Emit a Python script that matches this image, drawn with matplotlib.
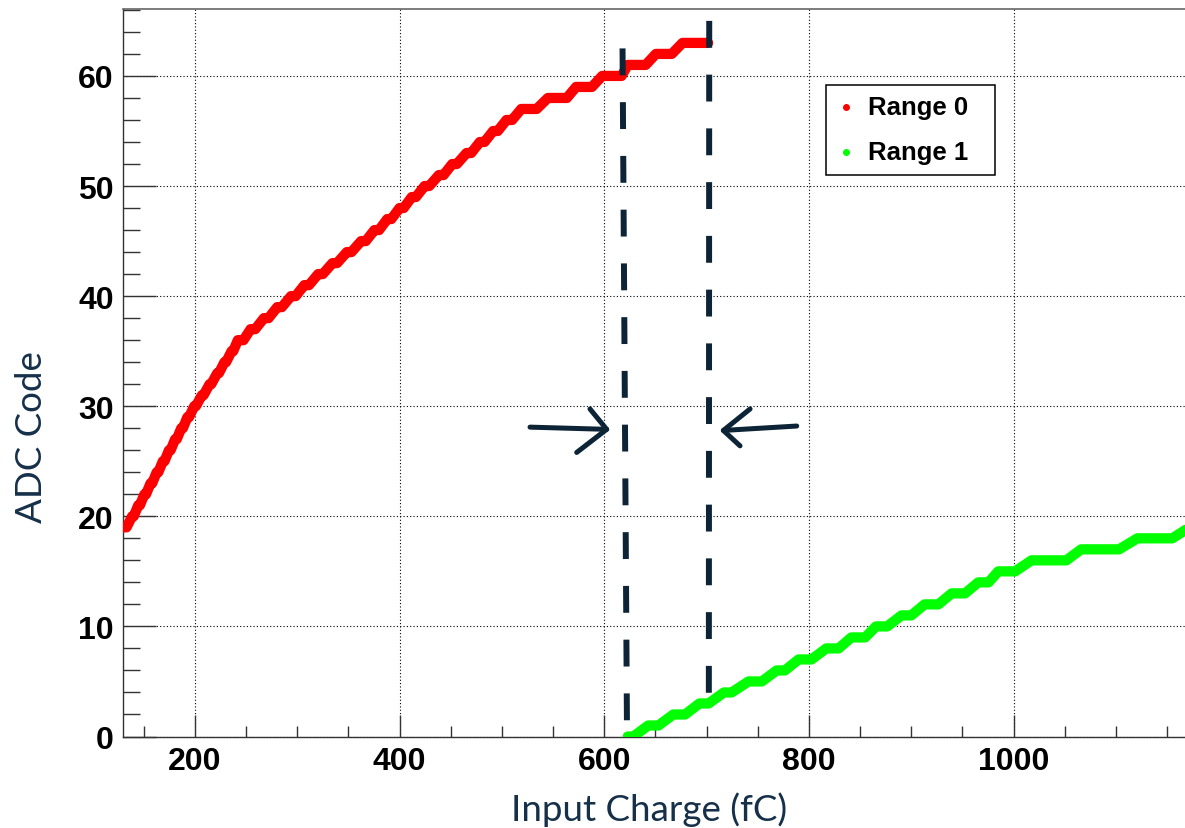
import matplotlib
matplotlib.use("Agg")
import matplotlib.pyplot as plt
from matplotlib.lines import Line2D
from matplotlib.patches import Rectangle
from matplotlib.ticker import MultipleLocator

# ---------------- data ----------------
# Range 0: ADC code plateaus (code, plateau start fC, plateau end fC)
range0_codes = list(range(19, 64))
range0_start = [130, 138.7, 144.7, 150.7, 156.7, 162.7, 168.7, 174.7, 180.7,
                186.7, 192.7, 199.4, 206.9, 214.4, 221.9, 228.9, 235.9, 242,
                254.5, 267.5, 280.5, 294, 307, 320.5, 334.5, 348.5, 362.5,
                375.5, 388, 400, 412, 424.5, 438.5, 451.5, 465.5, 478.5,
                491.5, 504.5, 519, 545, 572.5, 598, 623, 650.5, 676.5]
range0_end = [133.3, 140.3, 146.3, 152.3, 158.3, 164.3, 170.3, 176.3, 182.3,
              188.3, 194.3, 201, 208.5, 216, 223.5, 230.5, 237.5, 247.5,
              259, 272, 285, 298.5, 311.5, 325, 339, 353, 367, 380, 392, 404,
              416, 429, 443, 456, 470, 483, 496, 510, 534, 563.5, 588, 617,
              640.5, 666, 701.5]

# Range 1
range1_codes = list(range(0, 20))
range1_start = [623, 643, 667.5, 693, 717, 741, 768.5, 790, 817, 841.5, 865.5,
                890.5, 913, 939.5, 965.5, 985, 1017.5, 1066, 1121, 1172]
range1_end = [628.5, 653, 679, 702, 724.5, 754, 776.5, 802.5, 829, 855, 876.5,
              900, 926.5, 952.5, 975.5, 1001.5, 1051.5, 1103, 1155, 1200]

x_ticks = [200, 400, 600, 800, 1000]
y_ticks = [0, 10, 20, 30, 40, 50, 60]
series_labels = ["Range 0", "Range 1"]
series_colors = ["#ff0000", "#00ff00"]
x_label = "Input Charge (fC)"
y_label = "ADC Code"

NAVY = "#0c2435"
LABEL_COLOR = "#16304a"

# ---------------- figure ----------------
W, H = 1185, 829
fig = plt.figure(figsize=(W / 100, H / 100), dpi=100)
plt.rcParams["font.family"] = ["Liberation Sans", "DejaVu Sans"]

ax_left, ax_bottom = 123.3, 91.5
ax_right_px, ax_top_px = 1218.3, 10.0
ax = fig.add_axes([ax_left / W, ax_bottom / H,
                   (ax_right_px - ax_left) / W, (H - ax_top_px - ax_bottom) / H])
ax.set_xlim(130.1, 1200)
ax.set_ylim(0, 66.08)


def staircase(codes, starts, ends):
    xs, ys = [], []
    for c, s, e in zip(codes, starts, ends):
        xs += [s, e]
        ys += [c, c]
    return xs, ys


for codes, starts, ends, col in [(range0_codes, range0_start, range0_end, series_colors[0]),
                                 (range1_codes, range1_start, range1_end, series_colors[1])]:
    xs, ys = staircase(codes, starts, ends)
    ax.plot(xs, ys, color=col, lw=7.4, solid_capstyle="round",
            solid_joinstyle="round", zorder=3)

# ticks
ax.set_xticks(x_ticks)
ax.set_yticks(y_ticks)
ax.xaxis.set_minor_locator(MultipleLocator(50))
ax.yaxis.set_minor_locator(MultipleLocator(2))
ax.tick_params(axis="x", which="major", direction="in", length=15.8, width=1.0,
               color="#333333", pad=6.5, labelsize=23, top=False)
ax.tick_params(axis="x", which="minor", direction="in", length=7.9, width=1.0,
               color="#333333", top=False)
ax.tick_params(axis="y", which="major", direction="in", length=23.8, width=1.0,
               color="#333333", pad=6.8, labelsize=23, right=False)
ax.tick_params(axis="y", which="minor", direction="in", length=12.2, width=1.0,
               color="#333333", right=False)
for lab in ax.get_xticklabels() + ax.get_yticklabels():
    lab.set_fontweight("bold")

ax.grid(True, which="major", color="black", linestyle=(0, (1, 2)), linewidth=0.8)
ax.set_axisbelow(True)

for s in ["left", "bottom"]:
    ax.spines[s].set_color("#333333")
    ax.spines[s].set_linewidth(1.0)
ax.spines["top"].set_color("#666666")
ax.spines["top"].set_linewidth(1.2)
ax.spines["right"].set_visible(False)

# axis titles
title_font = ["Lato", "DejaVu Sans"]
fig.text(648.7 / W, (H - 821) / H, x_label, family=title_font,
         fontweight="normal", fontsize=26.5, color=LABEL_COLOR, ha="center",
         va="baseline")
fig.text(42 / W, (H - 437.5) / H, y_label, family=title_font,
         fontweight="normal", fontsize=26.5, color=LABEL_COLOR, ha="center",
         va="baseline", rotation=90, rotation_mode="anchor")

# legend (ROOT style box)
fig.add_artist(Rectangle((825.7 / W, (H - 175.7) / H), 169.3 / W, 90 / H,
                         transform=fig.transFigure, facecolor="white",
                         edgecolor="black", linewidth=1.1, zorder=5))
for i, (lab, col) in enumerate(zip(series_labels, series_colors)):
    my = [107.7, 152.7][i]
    by = [115.0, 160.0][i]
    fig.add_artist(Line2D([846 / W], [(H - my) / H], transform=fig.transFigure,
                          marker="o", ms=4, color=col, linestyle="none", zorder=6))
    fig.text(868.3 / W, (H - by) / H, lab, fontsize=18.5, fontweight="bold",
             color="black", ha="left", va="baseline", zorder=6)

# hand-drawn annotation: dashed boundary lines
dash_kw = dict(color=NAVY, lw=4.3, solid_capstyle="butt", dash_capstyle="butt",
               zorder=8, clip_on=False)
l1, = ax.plot([617.9, 622.3], [62.5, -0.3], **dash_kw)
l1.set_dashes((4.5, 4.5))
l2, = ax.plot([702.6, 702.2], [65.0, 1.7], **dash_kw)
l2.set_dashes((4.5, 4.5))

# hand-drawn arrows
arrow_kw = dict(color=NAVY, lw=3.6, solid_capstyle="round",
                solid_joinstyle="round", zorder=8)
ax.plot([527.5, 602.4], [28.1, 27.9], **arrow_kw)
ax.plot([586.1, 602.4, 573.1], [29.75, 27.9, 25.8], **arrow_kw)
ax.plot([788.1, 716.4], [28.2, 27.8], **arrow_kw)
ax.plot([742.5, 716.4, 732.7], [29.75, 27.8, 26.4], **arrow_kw)

fig.savefig("out.png", dpi=100)
